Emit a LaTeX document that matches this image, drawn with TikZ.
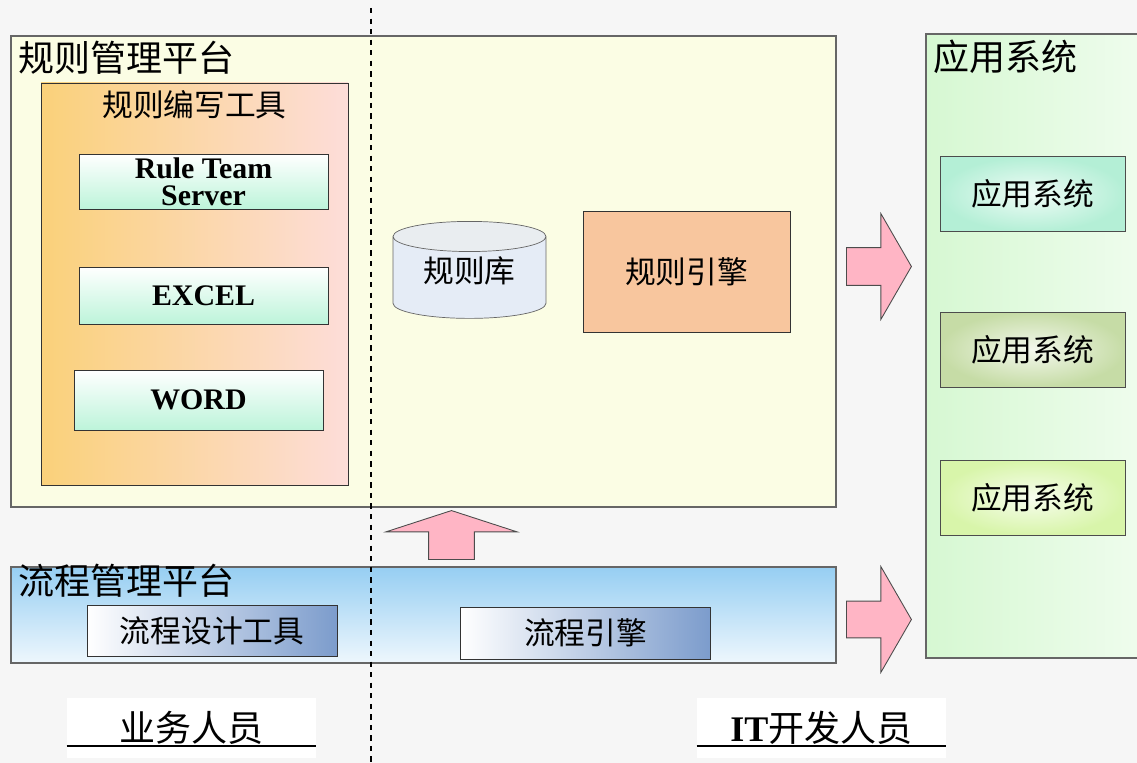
\documentclass[tikz,border=0pt]{standalone}
\usepackage{fontspec}
\setmainfont{Liberation Serif}
\newfontfamily\cjk{Noto Sans CJK SC}
\usetikzlibrary{positioning,fit,backgrounds,shapes.geometric,shapes.arrows}
\definecolor{pagebg}{HTML}{F6F6F6}
\definecolor{ruleyellow}{HTML}{FBFDE4}
\definecolor{tooorange}{HTML}{FAD17A}
\definecolor{toopink}{HTML}{FDDDD9}
\definecolor{mintbox}{HTML}{BDF4DA}
\definecolor{dbfill}{HTML}{E5ECF6}
\definecolor{dbend}{HTML}{E9EDF0}
\definecolor{enginefill}{HTML}{F8C69E}
\definecolor{flowtop}{HTML}{96CEF2}
\definecolor{flowbot}{HTML}{EEF7FD}
\definecolor{flowbox}{HTML}{7C9CCC}
\definecolor{arrowpink}{HTML}{FFB5C5}
\definecolor{appgreen}{HTML}{D6F8D2}
\definecolor{appmint}{HTML}{B4EFD6}
\definecolor{appolive}{HTML}{C6DCA6}
\definecolor{applime}{HTML}{D8F5AA}
\tikzset{
  platform/.style={
    draw=black!60, line width=0.8pt,
    inner sep=0pt
  },
  platlabel/.style={
    font=\cjk\fontsize{20.5}{22}\selectfont,
    anchor=west, inner sep=0pt
  },
  cjklabel/.style={
    font=\cjk\fontsize{17.5}{19}\selectfont
  },
  toolbox/.style={
    draw=black!80, line width=0.5pt,
    top color=white, bottom color=mintbox,
    font=\bfseries\fontsize{17}{15.5}\selectfont,
    align=center, inner sep=0pt,
    minimum width=4.98cm
  },
  flowtool/.style={
    cjklabel,
    draw=black!80, line width=0.5pt,
    left color=white, right color=flowbox,
    inner sep=0pt,
    minimum width=5cm
  },
  appbox/.style={
    cjklabel,
    draw=black!70, line width=0.5pt,
    shading=radial, inner color=white!80!#1, outer color=#1,
    minimum width=3.7cm, minimum height=1.5cm
  },
  bigarrow/.style={
    single arrow, draw=black!70, fill=arrowpink, line width=0.5pt,
    inner xsep=0pt
  },
  people/.style={
    fill=white, inner sep=0pt,
    minimum width=4.98cm, minimum height=1.2cm,
    font=\cjk\fontsize{20.5}{22}\selectfont
  }
}
\begin{document}
\begin{tikzpicture}[x=0.02cm,y=-0.02cm]
  \useasboundingbox[fill=pagebg] (0,0) rectangle (1137,763);

  % rule management platform
  \node[platform,fill=ruleyellow,fit={(11,36) (836,507)}] (rulep) {};
  \node[platlabel] (rulelbl) at (18,58) {规则管理平台};

  \node[platform,draw=black!80,line width=0.5pt,left color=tooorange,right color=toopink,
    fit={(41,83) (348,485)}] (tools) {};
  \node[cjklabel,below=1pt of tools.north] (toolslbl) {规则编写工具};

  \node[toolbox,minimum height=1.1cm] (rts) at (203.5,181.5) {Rule Team\\Server};
  \node[toolbox,minimum height=1.14cm] (excel) at (203.5,295.5) {EXCEL};
  \node[toolbox,minimum height=1.2cm] (word) at (198.5,400) {WORD};

  \node[cylinder,shape border rotate=90,shape aspect=0.29,draw=black!60,
    cylinder uses custom fill,cylinder body fill=dbfill,cylinder end fill=dbend,
    minimum width=3.06cm,minimum height=1.94cm,cjklabel] (ruledb) at (469.5,280.5) {\phantom{规则库}};
  \node[cjklabel] (dblbl) at (469.5,271) {规则库};
  \node[draw=black!80,fill=enginefill,minimum width=4.14cm,minimum height=2.42cm,
    cjklabel] (ruleeng) at (686.5,271.5) {规则引擎};

  % flow management platform
  \node[platform,top color=flowtop,bottom color=flowbot,fit={(11,567) (836,663)}] (flowp) {};
  \node[platlabel] (flowlbl) at (18,581) {流程管理平台};
  \node[flowtool,minimum height=1.02cm] (flowtool) at (212,630.5) {流程设计工具};
  \node[flowtool,minimum height=1.04cm] (floweng) at (585.5,633) {流程引擎};

  % application systems
  \node[platform,left color=appgreen,right color=appgreen!40!white,
    fit={(926,34) (1140,658)}] (apps) {};
  \node[platlabel] (appslbl) at (933,57) {应用系统};
  \node[appbox=appmint] (app1) at (1032.5,194) {应用系统};
  \node[appbox=appolive] (app2) at (1032.5,349.5) {应用系统};
  \node[appbox=applime] (app3) at (1032.5,497.5) {应用系统};

  % block arrows
  \node[bigarrow,rotate=90,anchor=tail,inner ysep=0.45cm,single arrow head extend=0.85cm,
    single arrow tip angle=144,minimum height=0.98cm] (uparr) at (451.5,560) {};
  \node[bigarrow,anchor=tail,inner ysep=0.37cm,single arrow head extend=0.68cm,
    single arrow tip angle=120,minimum height=1.3cm] (rarr1) at (846,266.5) {};
  \node[bigarrow,anchor=tail,inner ysep=0.36cm,single arrow head extend=0.69cm,
    single arrow tip angle=120,minimum height=1.3cm] (rarr2) at (846,619.5) {};

  % divider
  \draw[dashed,line width=0.6pt] (371,8) -- (371,763);

  % roles
  \node[people] (biz) at (191.5,728) {业务人员};
  \draw[line width=0.6pt] (biz.west |- 0,746) -- (biz.east |- 0,746);
  \node[people] (itdev) at (821.5,728) {{\rmfamily\bfseries IT}开发人员};
  \draw[line width=0.6pt] (itdev.west |- 0,746) -- (itdev.east |- 0,746);
\end{tikzpicture}
\end{document}
